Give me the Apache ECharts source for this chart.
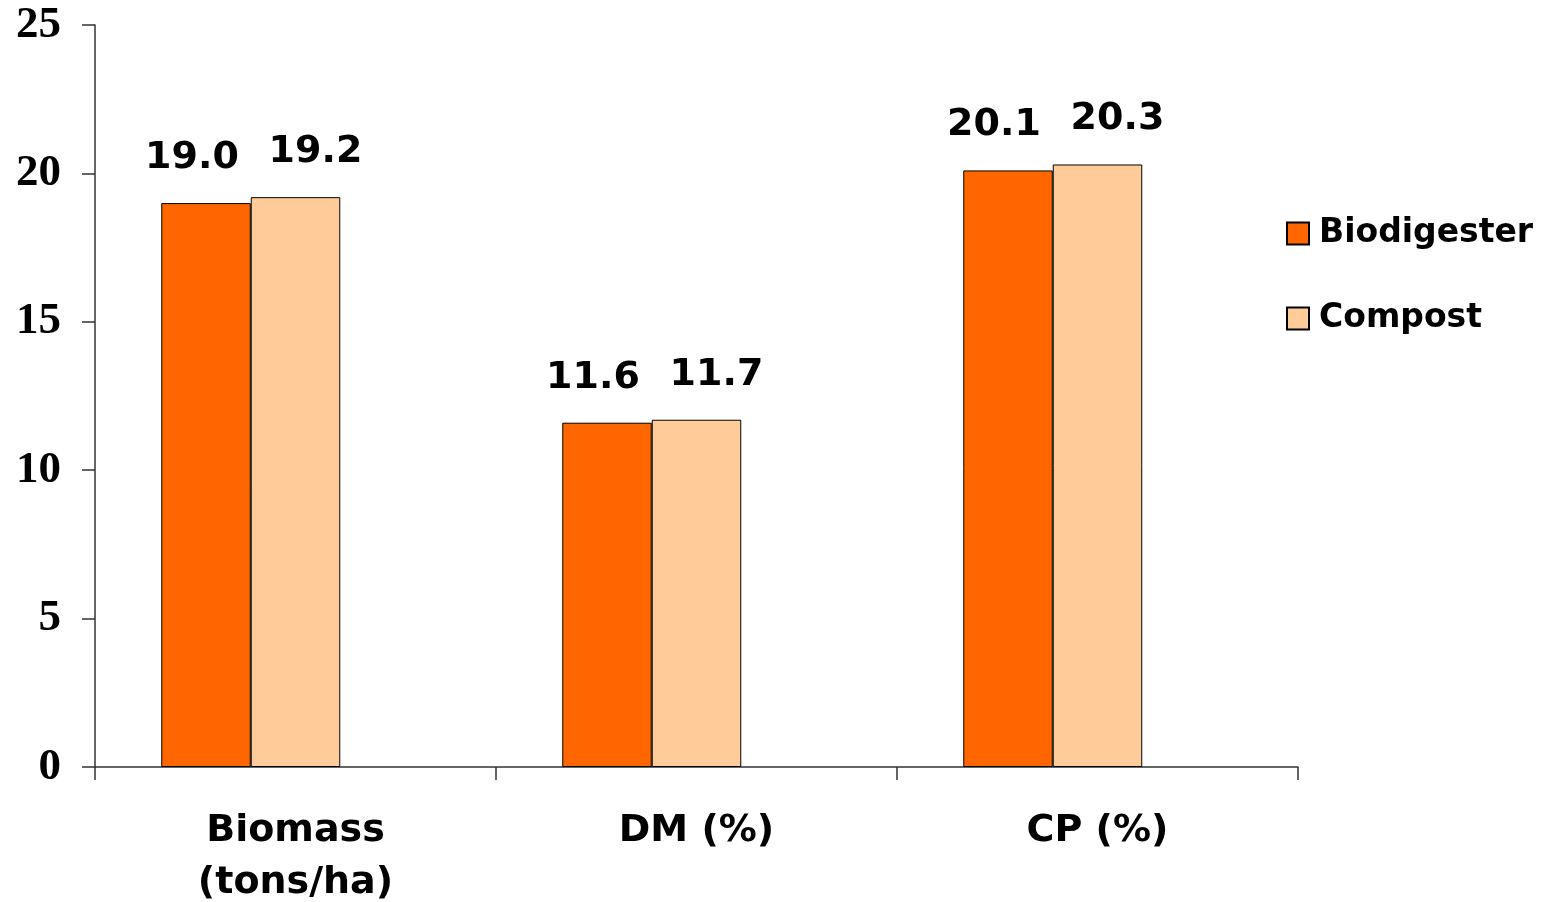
<!DOCTYPE html>
<html>
<head>
<meta charset="utf-8">
<script src="https://cdn.jsdelivr.net/npm/echarts@6/dist/echarts.min.js"></script>
<style>
  html, body { margin: 0; padding: 0; background: #fff; }
  #chart { width: 1546px; height: 902px; }
</style>
</head>
<body>
<div id="chart"></div>
<script>
// Categories and values
var categories = ['Biomass\n(tons/ha)', 'DM (%)', 'CP (%)'];
var biodigester = [19.0, 11.6, 20.1];
var compost = [19.2, 11.7, 20.3];
var yTicks = { min: 0, max: 25, interval: 5 };

var sansBold = 'Verdana, "DejaVu Sans", sans-serif';
var axisColor = '#333333';

var chart = echarts.init(document.getElementById('chart'), null, { renderer: 'canvas' });

function barLabel(offsetX) {
  return {
    show: true,
    position: 'top',
    distance: 26,
    offset: [offsetX, 0],
    color: '#000',
    fontFamily: sansBold,
    fontWeight: 'bold',
    fontSize: 38,
    formatter: function (p) { return p.value.toFixed(1); }
  };
}

chart.setOption({
  animation: false,
  backgroundColor: '#ffffff',
  grid: { left: 95, right: 248, top: 25, bottom: 135, containLabel: false, outerBoundsMode: 'none' },
  legend: {
    orient: 'vertical',
    left: 1281,
    top: 212,
    icon: 'rect',
    itemWidth: 22,
    itemHeight: 22,
    itemGap: 52,
    data: ['Biodigester', 'Compost'],
    textStyle: {
      color: '#000',
      fontFamily: sansBold,
      fontWeight: 'bold',
      fontSize: 33,
      padding: [0, 0, 0, 5]
    }
  },
  xAxis: {
    type: 'category',
    data: categories,
    boundaryGap: true,
    axisLine: { show: true, lineStyle: { color: axisColor, width: 1.5 } },
    axisTick: { show: true, length: 13, lineStyle: { color: axisColor, width: 1.5 } },
    axisLabel: {
      color: '#000',
      fontFamily: sansBold,
      fontWeight: 'bold',
      fontSize: 38,
      lineHeight: 52,
      margin: 38,
      interval: 0
    },
    splitLine: { show: false }
  },
  yAxis: {
    type: 'value',
    min: yTicks.min,
    max: yTicks.max,
    interval: yTicks.interval,
    axisLine: { show: true, lineStyle: { color: axisColor, width: 1.5 } },
    axisTick: { show: true, length: 13, lineStyle: { color: axisColor, width: 1.5 } },
    axisLabel: {
      color: '#000',
      fontFamily: '"Liberation Serif", "Times New Roman", serif',
      fontWeight: 'bold',
      fontSize: 45,
      margin: 34
    },
    splitLine: { show: false }
  },
  series: [
    {
      name: 'Biodigester',
      type: 'bar',
      data: biodigester,
      barWidth: 89.5,
      barGap: '0%',
      itemStyle: { color: '#FF6600', borderColor: '#000', borderWidth: 1 },
      label: barLabel(-14)
    },
    {
      name: 'Compost',
      type: 'bar',
      data: compost,
      barWidth: 89.5,
      barGap: '0%',
      itemStyle: { color: '#FFCC99', borderColor: '#000', borderWidth: 1 },
      label: barLabel(20)
    },
    {
      // empty third slot keeps the pair left of each category centre
      name: 'slot',
      type: 'bar',
      data: [],
      barWidth: 89.5,
      barGap: '0%'
    }
  ]
});
</script>
</body>
</html>
